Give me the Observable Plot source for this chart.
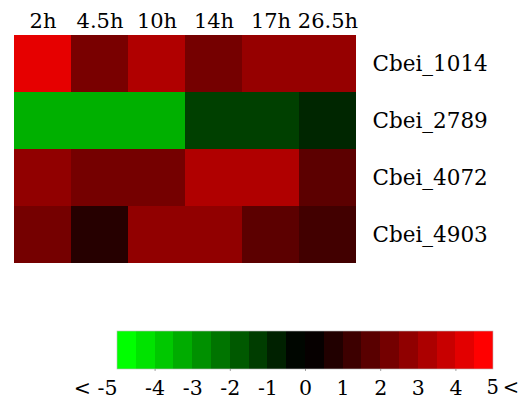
<!DOCTYPE html>
<html>
<head>
<meta charset="utf-8">
<script src="https://cdn.jsdelivr.net/npm/d3@7"></script>
<script src="https://cdn.jsdelivr.net/npm/@observablehq/plot@0.6"></script>
<style>
  html, body { margin: 0; padding: 0; background: #fff; }
  #chart svg { display: block; }
</style>
</head>
<body>
<div id="chart"></div>
<script>
const hours = ["2h", "4.5h", "10h", "14h", "17h", "26.5h"];
const genes = ["Cbei_1014", "Cbei_2789", "Cbei_4072", "Cbei_4903"];
const cbei1014 = [4.5, 2.38, 3.45, 2.3, 2.95, 2.95];
const cbei2789 = [-3.45, -3.45, -3.45, -1.25, -1.25, -0.75];
const cbei4072 = [2.85, 2.3, 2.3, 3.45, 3.45, 1.8];
const cbei4903 = [2.3, 0.75, 2.85, 2.85, 1.8, 1.3];
const legendEdges = d3.range(-5, 5.001, 0.5);
const legendTicks = [-4, -3, -2, -1, 0, 1, 2, 3, 4];
const legendMarks = [-4, -2, 0, 2, 4];

const series = [cbei1014, cbei2789, cbei4072, cbei4903];
const table = [];
genes.forEach((g, i) => hours.forEach((h, j) => table.push({gene: g, hour: h, value: series[i][j]})));

const serif = "DejaVu Serif";
const colorOpts = {type: "linear", domain: [-5, 0, 5], range: ["#00ff00", "#000000", "#ff0000"], interpolate: "rgb", clamp: true};

const heat = Plot.plot({
  width: 520,
  height: 280,
  marginLeft: 12,
  marginRight: 163,
  marginTop: 33,
  marginBottom: 16,
  style: {background: "#fff"},
  x: {domain: hours, padding: 0, axis: null},
  y: {domain: genes, padding: 0, axis: null},
  color: colorOpts,
  marks: [
    Plot.cell(table, {x: "hour", y: "gene", fill: "value", shapeRendering: "crispEdges"}),
    Plot.text(hours, {x: d => d, frameAnchor: "top", lineAnchor: "bottom", dy: -6, fontSize: 21, fontFamily: serif, fill: "#000"}),
    Plot.text(genes, {y: d => d, frameAnchor: "right", textAnchor: "start", dx: 15, fontSize: 21.5, fontFamily: serif, fill: "#000"})
  ]
});

const bins = legendEdges.slice(0, -1).map((e, i) => {
  const k = e >= 0 ? e / 0.5 : (-e - 0.5) / 0.5;
  const rep = (e >= 0 ? 1 : -1) * 5 * (k + 0.2) / 9.2;
  return {x1: e, x2: legendEdges[i + 1], rep};
});

const legend = Plot.plot({
  width: 520,
  height: 122,
  marginLeft: 117,
  marginRight: 27,
  marginTop: 51,
  marginBottom: 33,
  style: {background: "#fff"},
  x: {domain: [-5, 5], axis: null},
  y: {domain: [0, 1], axis: null},
  color: colorOpts,
  marks: [
    Plot.rect(bins, {x1: "x1", x2: "x2", y1: 0, y2: 1, fill: "rep", shapeRendering: "crispEdges"}),
    Plot.rect([0], {x1: -5, x2: 5, y1: 0, y2: 1, fill: "none", stroke: "#bbb", strokeWidth: 0.6}),
    Plot.ruleX(legendMarks, {x: d => d, y1: 0, y2: -0.05, stroke: "#999"}),
    Plot.text(legendTicks, {x: d => d, frameAnchor: "bottom", lineAnchor: "top", dy: 11, fontSize: 20.5, fontFamily: serif, fill: "#000", text: d => String(d).replace("−", "-")}),
    Plot.text([-5], {x: d => d, frameAnchor: "bottom", lineAnchor: "top", dy: 11, textAnchor: "end", fontSize: 20.5, fontFamily: serif, fill: "#000", text: d => "< -5"}),
    Plot.text([5], {x: d => d, frameAnchor: "bottom", lineAnchor: "top", dy: 11, dx: -7, textAnchor: "start", fontSize: 19.5, fontFamily: serif, fill: "#000", text: d => "5\u2009<"})
  ]
});

const root = document.getElementById("chart");
root.appendChild(heat);
root.appendChild(legend);
</script>
</body>
</html>
